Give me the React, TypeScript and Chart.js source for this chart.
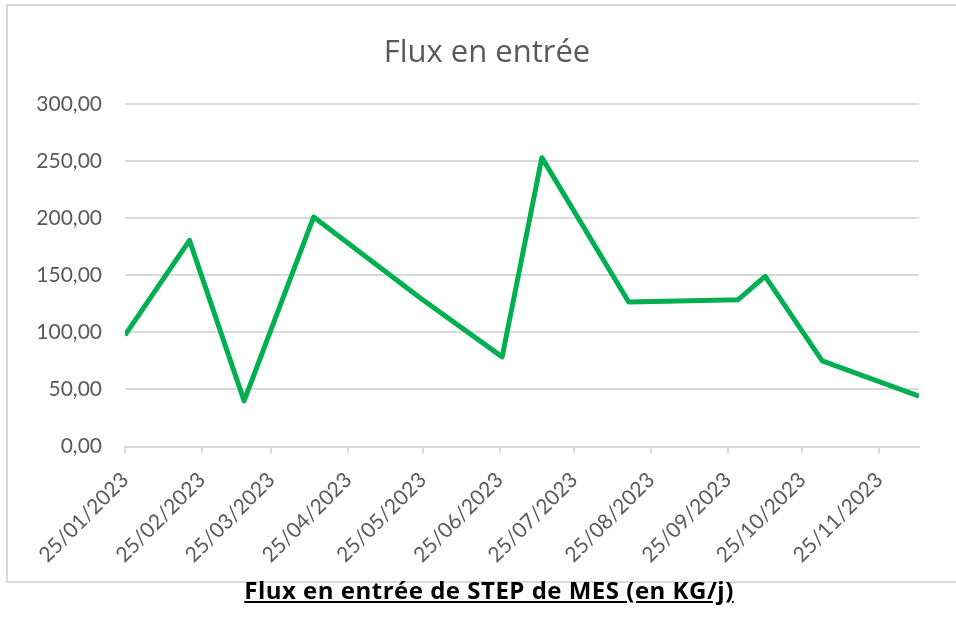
import React, { useEffect, useRef } from "react";
import { Chart, registerables } from "chart.js";

Chart.register(...registerables);

const dates = [
  "2023-01-25", "2023-02-20", "2023-03-14", "2023-04-11", "2023-05-24", "2023-06-26",
  "2023-07-12", "2023-08-16", "2023-09-29", "2023-10-10", "2023-11-02", "2023-12-11",
];
const values = [97.5, 180.5, 40, 201, 130, 78.5, 253, 126.5, 128.5, 149, 75, 44];
const tickDates = [
  "2023-01-25", "2023-02-25", "2023-03-25", "2023-04-25", "2023-05-25", "2023-06-25",
  "2023-07-25", "2023-08-25", "2023-09-25", "2023-10-25", "2023-11-25",
];
const yTicks = [0, 50, 100, 150, 200, 250, 300];
const chartTitle = "Flux en entrée";
const caption = "Flux en entrée de STEP de MES (en KG/j)";

const toDay = (s: string) => {
  const [y, m, d] = s.split("-").map(Number);
  return Date.UTC(y, m - 1, d) / 86400000;
};
const fmtDay = (v: number) => {
  const dt = new Date(v * 86400000);
  const dd = String(dt.getUTCDate()).padStart(2, "0");
  const mm = String(dt.getUTCMonth() + 1).padStart(2, "0");
  return `${dd}/${mm}/${dt.getUTCFullYear()}`;
};

const GRAY_TEXT = "#595959";
const GRID = "#d9d9d9";

export default function App() {
  const ref = useRef<HTMLCanvasElement | null>(null);
  useEffect(() => {
    if (!ref.current) return;
    const pts = dates.map((d, i) => ({ x: toDay(d), y: values[i] }));
    const chart = new Chart(ref.current, {
      type: "line",
      data: {
        datasets: [
          {
            data: pts,
            borderColor: "#00b050",
            borderWidth: 5,
            pointRadius: 0,
            tension: 0,
            borderJoinStyle: "round",
            borderCapStyle: "butt",
          },
        ],
      },
      options: {
        animation: false,
        responsive: false,
        maintainAspectRatio: false,
        layout: { padding: { left: 0, right: 37, top: 104, bottom: 0 } },
        plugins: {
          legend: { display: false },
          tooltip: { enabled: false },
          title: { display: false },
        },
        scales: {
          x: {
            type: "linear",
            min: toDay(dates[0]),
            max: toDay(dates[dates.length - 1]),
            afterBuildTicks: (scale: any) => {
              scale.ticks = tickDates.map((d) => ({ value: toDay(d) }));
            },
            afterFit: (scale: any) => {
              scale.height = 581 - 446.5;
            },
            grid: {
              display: true,
              drawOnChartArea: false,
              drawTicks: true,
              tickLength: 7,
              color: GRID,
              lineWidth: 2,
            },
            border: { display: true, color: GRID, width: 2 },
            ticks: {
              autoSkip: false,
              maxRotation: 45,
              minRotation: 45,
              padding: 14,
              color: GRAY_TEXT,
              font: { family: "Lato", size: 21 },
              callback: (v: any) => fmtDay(Number(v)),
            },
          },
          y: {
            min: 0,
            max: 300,
            afterBuildTicks: (scale: any) => {
              scale.ticks = yTicks.map((v) => ({ value: v }));
            },
            afterFit: (scale: any) => {
              scale.width = 125;
            },
            grid: { color: GRID, lineWidth: 2, drawTicks: false },
            border: { display: false },
            ticks: {
              padding: 23,
              color: GRAY_TEXT,
              font: { family: "Lato", size: 21 },
              callback: (v: any) => Number(v).toFixed(2).replace(".", ","),
            },
          },
        },
      },
    } as any);
    return () => chart.destroy();
  }, []);

  return (
    <div
      style={{
        position: "absolute",
        left: 0,
        top: 0,
        width: 956,
        height: 621,
        overflow: "hidden",
        background: "#fff",
      }}
    >
      <div
        style={{
          position: "absolute",
          left: 6,
          top: 4,
          width: 980,
          height: 575,
          border: `2px solid ${GRID}`,
        }}
      />
      <canvas
        ref={ref}
        width={956}
        height={581}
        style={{ position: "absolute", left: 0, top: 0, width: 956, height: 581 }}
      />
      <div
        style={{
          position: "absolute",
          left: 287,
          width: 400,
          top: 29.5,
          textAlign: "center",
          fontFamily: "Open Sans",
          fontSize: 31,
          lineHeight: "40px",
          color: GRAY_TEXT,
          whiteSpace: "nowrap",
        }}
      >
        {chartTitle}
      </div>
      <div
        style={{
          position: "absolute",
          left: 189,
          width: 600,
          top: 575.5,
          textAlign: "center",
          fontFamily: "Open Sans",
          fontWeight: "bold",
          fontSize: 24,
          letterSpacing: 0.5,
          lineHeight: "28px",
          color: "#000",
          textDecoration: "underline",
          whiteSpace: "nowrap",
        }}
      >
        {caption}
      </div>
    </div>
  );
}
